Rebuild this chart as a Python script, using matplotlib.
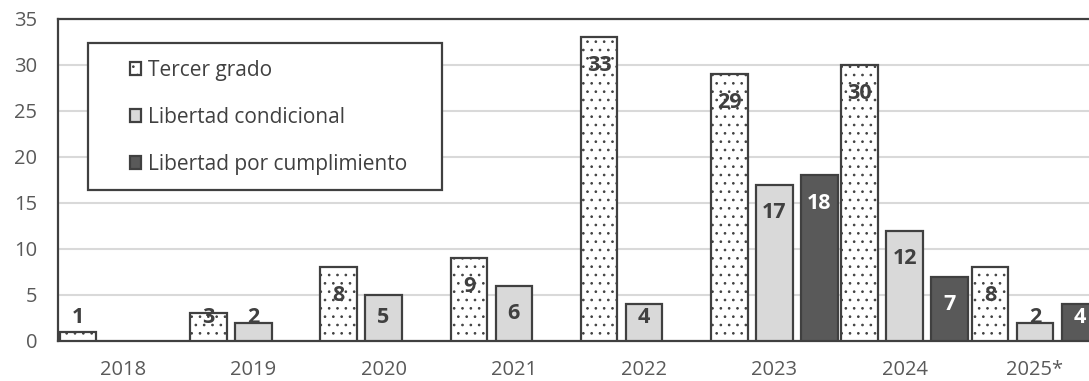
import matplotlib
matplotlib.use("Agg")
import matplotlib.pyplot as plt
import numpy as np
from matplotlib.patches import Rectangle

plt.rcParams['font.family'] = ['Open Sans', 'DejaVu Sans']
plt.rcParams['hatch.linewidth'] = 0.7
plt.rcParams['hatch.color'] = '#6a6a6a'

years = ["2018", "2019", "2020", "2021", "2022", "2023", "2024", "2025*"]
tercer_grado = [1, 3, 8, 9, 33, 29, 30, 8]
libertad_condicional = [0, 2, 5, 6, 4, 17, 12, 2]
libertad_cumplimiento = [0, 0, 0, 0, 0, 18, 7, 4]

series = [
    ("Tercer grado", tercer_grado, "white", "..", "#404040"),
    ("Libertad condicional", libertad_condicional, "#d9d9d9", None, "#404040"),
    ("Libertad por cumplimiento", libertad_cumplimiento, "#595959", None, "white"),
]

fig = plt.figure(figsize=(10.89, 3.81), dpi=100)
ax = fig.add_axes([58 / 1089, 40 / 381, 1042 / 1089, 322 / 381])

x = np.arange(len(years))
step = 0.345
width = 0.28
handles = []
for i, (name, vals, color, hatch, lblcolor) in enumerate(series):
    pos = x + (i - 1) * step
    mask = np.array(vals) > 0
    bars = ax.bar(pos[mask], np.array(vals)[mask], width=width, color=color,
                  edgecolor="#404040", linewidth=1.6, hatch=hatch, zorder=3)
    handles.append(bars)
    for p, v in zip(pos[mask], np.array(vals)[mask]):
        ax.text(p, max(v - 3.05, 2.6), str(v), ha="center", va="center",
                fontsize=15.5, fontweight="bold", color=lblcolor, zorder=4)

ax.set_xlim(-0.5, len(years) - 0.5)
ax.set_ylim(0, 35)
ax.set_yticks(range(0, 36, 5))
ax.set_xticks(x)
ax.set_xticklabels(years)
ax.tick_params(axis="both", length=0, labelsize=14.5, labelcolor="#595959")
ax.tick_params(axis="y", pad=15)
ax.tick_params(axis="x", pad=14)
ax.grid(axis="y", color="#d9d9d9", linewidth=1.5, zorder=0)
ax.set_axisbelow(True)
for s in ["left", "top", "bottom"]:
    ax.spines[s].set_color("#404040")
    ax.spines[s].set_linewidth(1.6)
ax.spines["right"].set_visible(False)

# legend frame and entries
ax.add_patch(Rectangle((30 / 1042, 151 / 322), 354 / 1042, 147 / 322,
                       transform=ax.transAxes, facecolor="white",
                       edgecolor="#404040", linewidth=1.6, zorder=5))
leg = ax.legend(handles, [s[0] for s in series], loc="upper left",
                bbox_to_anchor=(72 / 1042, 281 / 322), frameon=False,
                fontsize=15, handlelength=0.55, handleheight=0.55,
                handletextpad=0.3, labelspacing=1.25, borderpad=0,
                borderaxespad=0, labelcolor="#404040")
leg.set_zorder(6)

fig.savefig("out.png", dpi=100)
